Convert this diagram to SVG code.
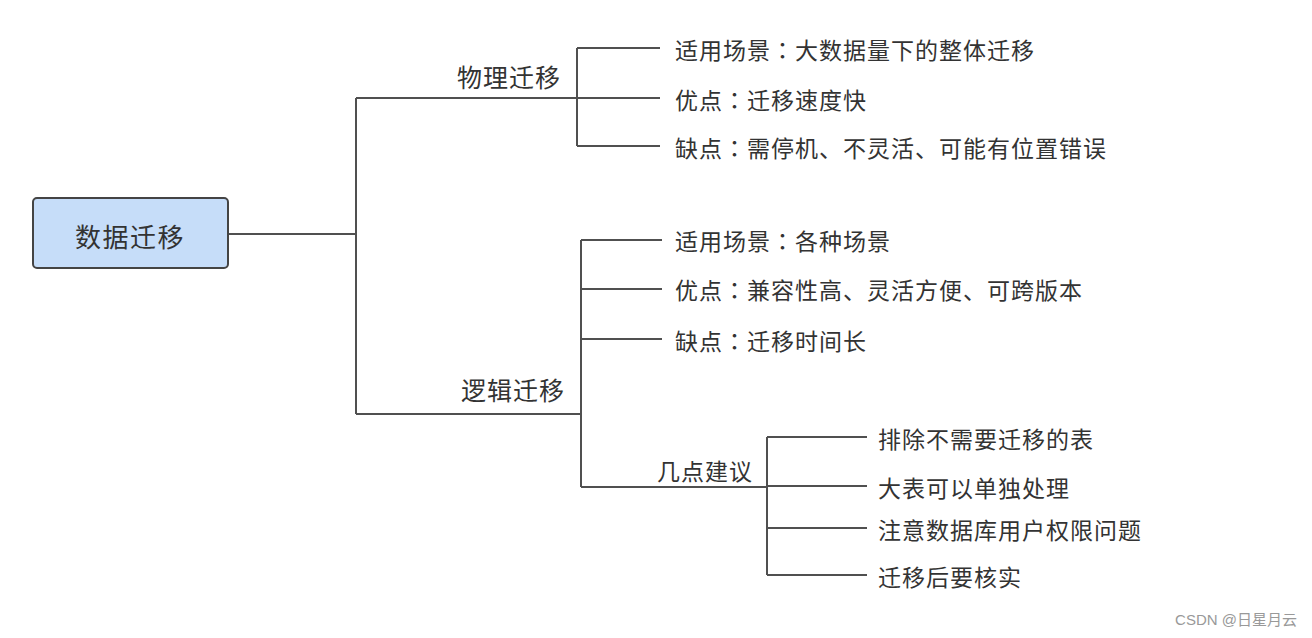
<svg xmlns="http://www.w3.org/2000/svg" width="1312" height="638" viewBox="0 0 1312 638">
<style>
text{font-family:"Noto Sans CJK SC","Noto Sans",sans-serif;fill:#333;dominant-baseline:central}
.t{font-size:23px;letter-spacing:1px}
.b{font-size:25px;letter-spacing:1px}
.k{font-family:"Noto Sans CJK TC",sans-serif}
.c path{fill:none;stroke:#505050;stroke-width:2}
</style>
<rect width="1312" height="638" fill="#fff"/>
<g class="c" id="connectors">
<path d="M229 234H356M356 98V414M356 98H577M356 414H581"/>
<path d="M577 48V146M577 48H660M577 98H660M577 146H660"/>
<path d="M581 240V487M581 240H662M581 289H662M581 339H662M581 487H767"/>
<path d="M767 437V575M767 437H867M767 486H867M767 528H867M767 575H867"/>
</g>
<g id="root">
<rect x="33" y="198" width="195" height="70" rx="4" fill="#c6ddf9" stroke="#444" stroke-width="2"/>
<text x="130" y="235" text-anchor="middle" style="font-size:26px;letter-spacing:1.5px">数据迁移</text>
</g>
<g id="phys"><text class="b" x="457" y="76">物理迁移</text></g>
<g id="phys1"><text class="t" x="675" y="49">适用场景<tspan class="k">：</tspan>大数据量下的整体迁移</text></g>
<g id="phys2"><text class="t" x="675" y="99">优点<tspan class="k">：</tspan>迁移速度快</text></g>
<g id="phys3"><text class="t" x="675" y="147">缺点<tspan class="k">：</tspan>需停机、不灵活、可能有位置错误</text></g>
<g id="logic"><text class="b" x="461" y="389">逻辑迁移</text></g>
<g id="logic1"><text class="t" x="675" y="240">适用场景<tspan class="k">：</tspan>各种场景</text></g>
<g id="logic2"><text class="t" x="675" y="289">优点<tspan class="k">：</tspan>兼容性高、灵活方便、可跨版本</text></g>
<g id="logic3"><text class="t" x="675" y="340">缺点<tspan class="k">：</tspan>迁移时间长</text></g>
<g id="advice"><text class="t" x="657" y="470">几点建议</text></g>
<g id="adv1"><text class="t" x="878" y="438">排除不需要迁移的表</text></g>
<g id="adv2"><text class="t" x="878" y="487">大表可以单独处理</text></g>
<g id="adv3"><text class="t" x="878" y="529">注意数据库用户权限问题</text></g>
<g id="adv4"><text class="t" x="878" y="576">迁移后要核实</text></g>
<text x="1297" y="619" text-anchor="end" style="font-family:'Liberation Sans','Noto Sans CJK SC',sans-serif;font-size:15px;fill:#999">CSDN @日星月云</text>
</svg>
